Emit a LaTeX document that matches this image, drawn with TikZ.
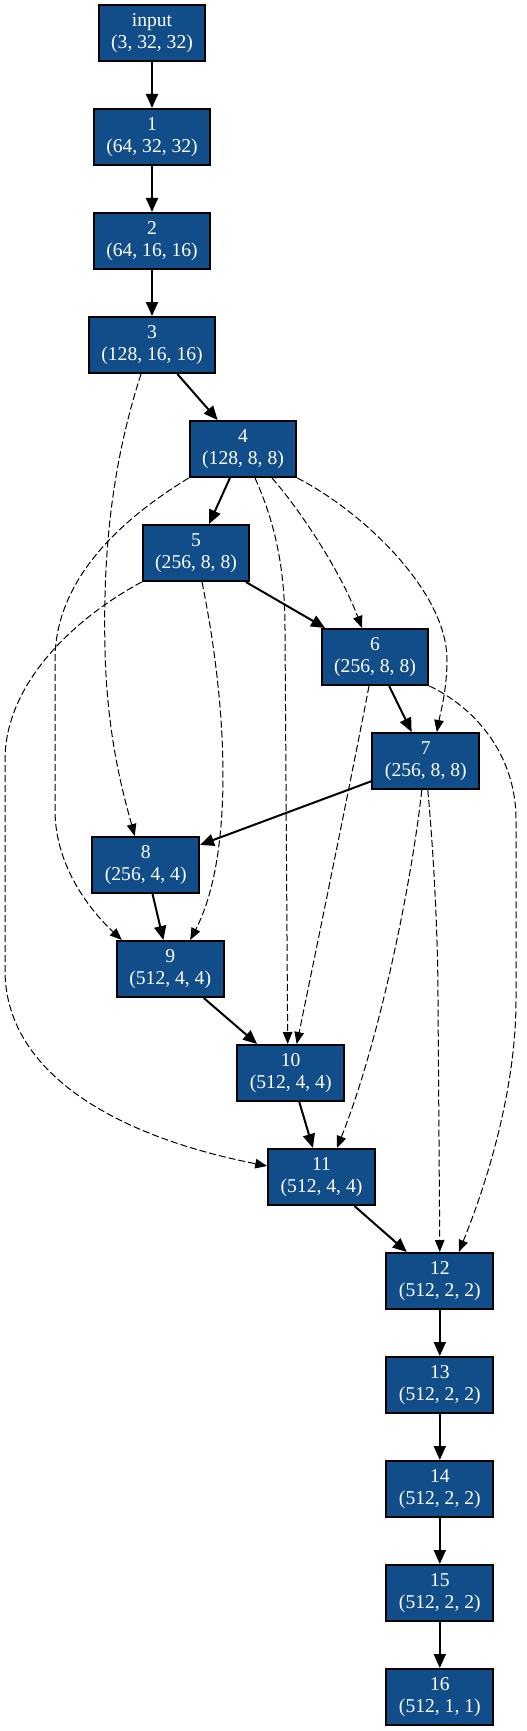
\documentclass[tikz,border=0pt]{standalone}
\usepackage{fontspec}
\setmainfont{Liberation Serif}
\usetikzlibrary{arrows.meta}
\definecolor{nodefill}{HTML}{114D89}
\begin{document}
\begin{tikzpicture}[x=1pt,y=-1pt,
 layer/.style={draw=black, line width=2pt, fill=nodefill, text=white, align=center,
   font=\fontsize{19.6}{22.5}\selectfont, minimum height=56pt, inner xsep=12.5pt, inner ysep=0pt},
 flow/.style={line width=2pt, -{Triangle[length=14pt,width=12pt]}},
 skipedge/.style={line width=1pt, dash pattern=on 7pt off 3pt, -{Triangle[length=12pt,width=9.5pt]}}]
\useasboundingbox (0,0) rectangle (527,1731);
\node[layer] (in)  at (152,33)    {input\\(3, 32, 32)};
\node[layer] (n1)  at (152,137)   {1\\(64, 32, 32)};
\node[layer] (n2)  at (152,241)   {2\\(64, 16, 16)};
\node[layer] (n3)  at (152,345)   {3\\(128, 16, 16)};
\node[layer] (n4)  at (243,449)   {4\\(128, 8, 8)};
\node[layer] (n5)  at (196,553)   {5\\(256, 8, 8)};
\node[layer] (n6)  at (375,657)   {6\\(256, 8, 8)};
\node[layer] (n7)  at (425.8,761) {7\\(256, 8, 8)};
\node[layer] (n8)  at (145.7,865) {8\\(256, 4, 4)};
\node[layer] (n9)  at (170.2,969) {9\\(512, 4, 4)};
\node[layer] (n10) at (290.7,1073) {10\\(512, 4, 4)};
\node[layer] (n11) at (321.5,1177) {11\\(512, 4, 4)};
\node[layer] (n12) at (439.8,1281) {12\\(512, 2, 2)};
\node[layer] (n13) at (439.8,1385) {13\\(512, 2, 2)};
\node[layer] (n14) at (439.8,1489) {14\\(512, 2, 2)};
\node[layer] (n15) at (439.8,1593) {15\\(512, 2, 2)};
\node[layer] (n16) at (439.8,1697) {16\\(512, 1, 1)};
% main chain
\draw[flow] (in) -- (n1);
\draw[flow] (n1) -- (n2);
\draw[flow] (n2) -- (n3);
\draw[flow] (n3) -- (n4);
\draw[flow] (n4) -- (n5);
\draw[flow] (n5) -- (n6);
\draw[flow] (n6) -- (n7);
\draw[flow] (n7) -- (n8);
\draw[flow] (n8) -- (n9);
\draw[flow] (n9) -- (n10);
\draw[flow] (n10) -- (n11);
\draw[flow] (n11) -- (n12);
\draw[flow] (n12) -- (n13);
\draw[flow] (n13) -- (n14);
\draw[flow] (n14) -- (n15);
\draw[flow] (n15) -- (n16);
% skip connections
\draw[skipedge] ([xshift=-11pt]n3.south) .. controls (110,470) and (103,560) .. (105,650)
  .. controls (107,740) and (125,800) .. ([xshift=-11pt]n8.north);
\draw[skipedge] (n4.south west) .. controls (120,520) and (55,580) .. (55,660) -- (55,810)
  .. controls (55,870) and (95,915) .. ([xshift=6pt]n9.north west);
\draw[skipedge] ([xshift=12pt]n4.south) .. controls (276,525) and (285,570) .. (285,630)
  -- ([xshift=-3pt]n10.north);
\draw[skipedge] ([xshift=29pt]n4.south) .. controls (300,510) and (340,570) .. ([xshift=-13pt]n6.north);
\draw[skipedge] (n4.south east) .. controls (360,510) and (447,590) .. (447,660)
  .. controls (447,690) and (440,715) .. ([xshift=11pt]n7.north);
\draw[skipedge] (n5.south west) .. controls (80,615) and (5,680) .. (5,760) -- (5,970)
  .. controls (5,1070) and (110,1135) .. ([yshift=11pt]n11.west);
\draw[skipedge] ([xshift=6pt]n5.south) .. controls (230,720) and (232,860) .. ([xshift=20pt]n9.north);
\draw[skipedge] ([xshift=-6pt]n6.south) .. controls (355,760) and (310,980) .. ([xshift=6pt]n10.north);
\draw[skipedge] (n6.south east) .. controls (470,705) and (516,750) .. (516,820) -- (516,1000)
  .. controls (516,1100) and (480,1200) .. ([xshift=19pt]n12.north);
\draw[skipedge] ([xshift=-4pt]n7.south) .. controls (412,880) and (380,1040) .. ([xshift=15.5pt]n11.north);
\draw[skipedge] ([xshift=2pt]n7.south) .. controls (436,880) and (438,960) .. (438,1000)
  -- (n12.north);
\end{tikzpicture}
\end{document}
